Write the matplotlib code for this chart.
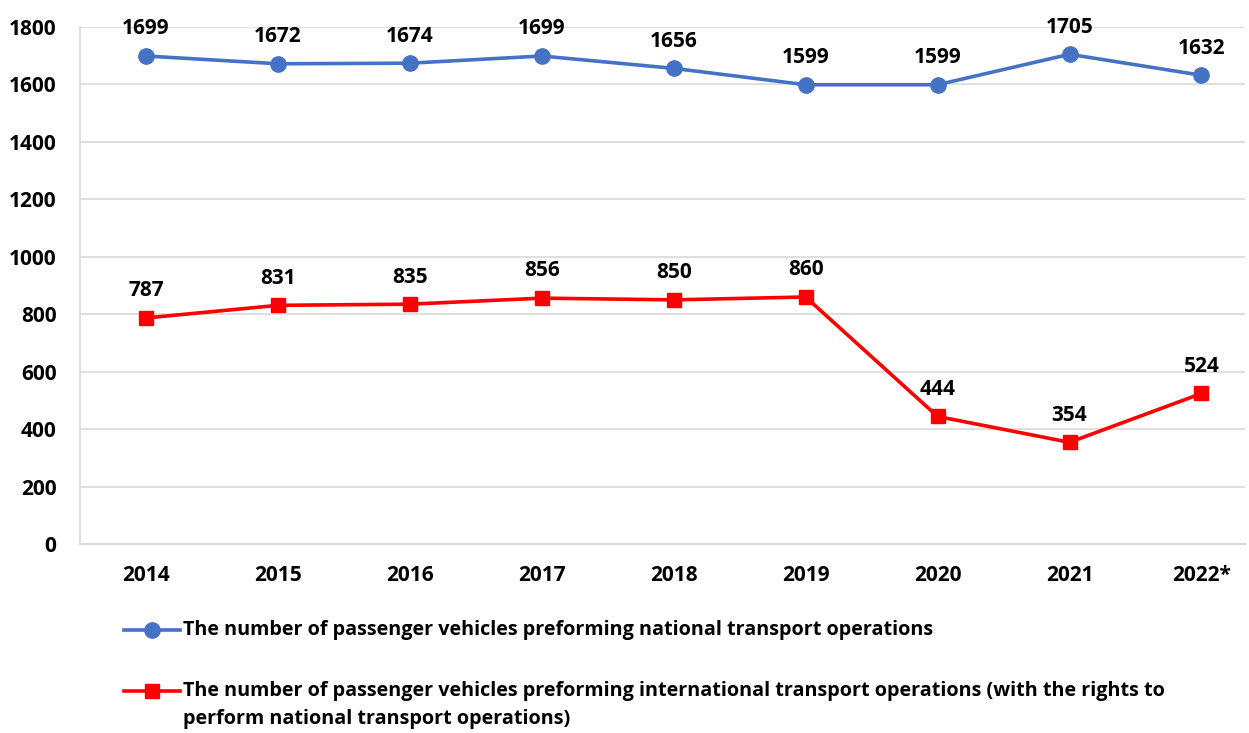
import matplotlib.pyplot as plt
from matplotlib.lines import Line2D

plt.rcParams['font.family'] = ['Open Sans', 'DejaVu Sans']
plt.rcParams['font.weight'] = 'bold'

years = ["2014", "2015", "2016", "2017", "2018", "2019", "2020", "2021", "2022*"]
national = [1699, 1672, 1674, 1699, 1656, 1599, 1599, 1705, 1632]
international = [787, 831, 835, 856, 850, 860, 444, 354, 524]

lab_nat = "The number of passenger vehicles preforming national transport operations"
lab_int = ["The number of passenger vehicles preforming international transport operations (with the rights to",
           "perform national transport operations)"]

blue = "#4472C4"
red = "#FF0000"

fig = plt.figure(figsize=(12.49, 7.33), dpi=100)
ax = fig.add_axes([80/1249, 1-544/733, 1165/1249, 517/733])

x = range(len(years))
ax.plot(x, national, color=blue, lw=2.6, marker='o', ms=11, zorder=3)
ax.plot(x, international, color=red, lw=2.6, marker='s', ms=9.5, zorder=3)

for i, v in enumerate(national):
    ax.annotate(str(v), (i, v), xytext=(0, 12), textcoords='offset points',
                ha='center', va='bottom', fontsize=15, fontweight='bold')
for i, v in enumerate(international):
    ax.annotate(str(v), (i, v), xytext=(0, 12), textcoords='offset points',
                ha='center', va='bottom', fontsize=15, fontweight='bold')

ax.set_xlim(-0.5, 8.33)
ax.set_ylim(0, 1800)
ax.set_yticks(range(0, 1801, 200))
ax.set_xticks(list(x))
ax.set_xticklabels(years)
ax.tick_params(axis='both', length=0, labelsize=15)
ax.tick_params(axis='x', pad=15)
ax.tick_params(axis='y', pad=17)
ax.grid(axis='y', color='#D9D9D9', lw=1.2)
ax.set_axisbelow(True)
for s in ['top', 'right']:
    ax.spines[s].set_visible(False)
ax.spines['left'].set_color('#D9D9D9')
ax.spines['bottom'].set_color('#D9D9D9')
ax.spines['left'].set_linewidth(1.2)
ax.spines['bottom'].set_linewidth(1.5)

# legend drawn by hand so the marker sits on the first text line
def legend_row(y_px, color, marker, ms, lines):
    yf = 1 - y_px/733
    xs = [124/1249, 152/1249, 180/1249]
    fig.add_artist(Line2D(xs, [yf]*3, transform=fig.transFigure, color=color,
                          lw=2.6, marker=marker, ms=ms, markevery=[1]))
    for k, t in enumerate(lines):
        fig.text(183/1249, 1 - (y_px + 28*k)/733, t, fontsize=14.2,
                 fontweight='bold', va='center', ha='left')

legend_row(630, blue, 'o', 11, [lab_nat])
legend_row(691, red, 's', 9.5, lab_int)

fig.savefig("out.png", dpi=100)
